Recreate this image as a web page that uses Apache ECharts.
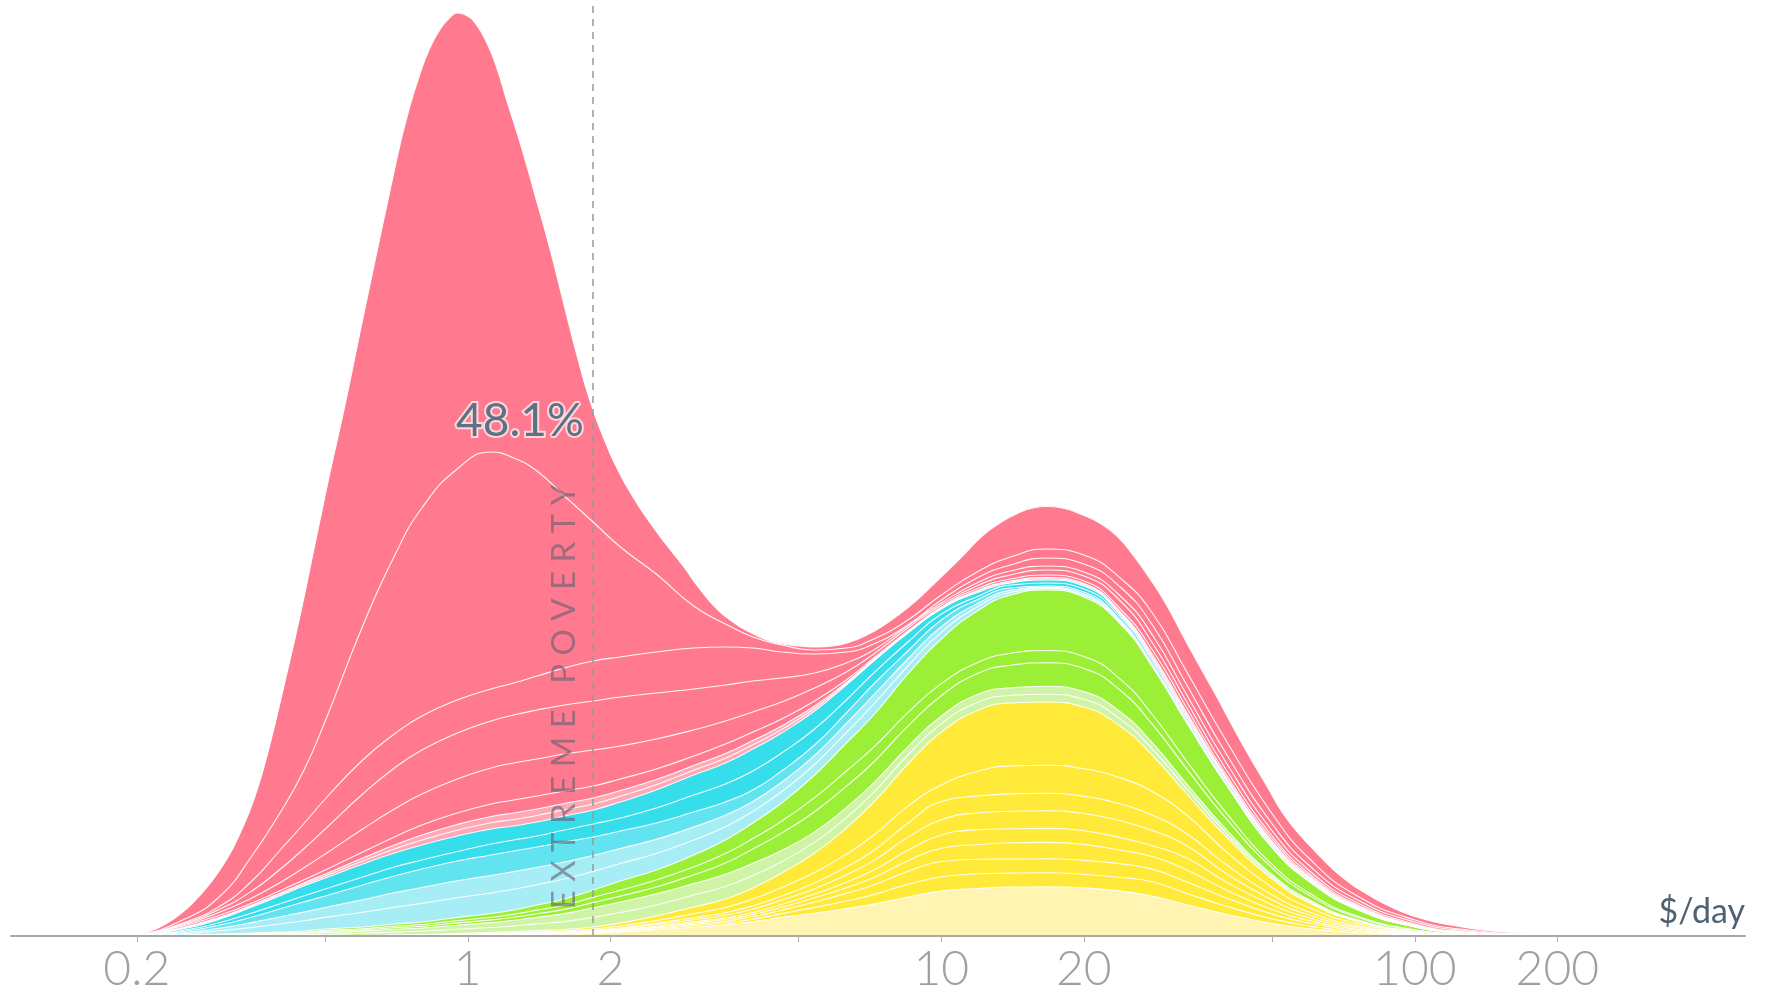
<!DOCTYPE html>
<html><head><meta charset="utf-8">
<script src="https://cdn.jsdelivr.net/npm/echarts@6/dist/echarts.min.js"></script>
<style>html,body{margin:0;padding:0;background:#fff}#chart{width:1768px;height:995px}</style>
</head><body><div id="chart"></div>
<script>
// income levels ($/day) at which the outer silhouette was read (finer sampling)
const outlineIncomes = [0.19,0.21,0.23,0.25,0.265,0.285,0.31,0.33,0.355,0.38,0.41,0.44,0.475,0.51,0.55,0.59,0.635,0.685,0.72,0.755,0.79,0.83,0.875,0.915,0.95,0.99,1.04,1.1,1.15,1.21,1.3,1.4,1.49,1.59,1.7,1.81,1.94,2.07,2.24,2.42,2.62,2.85,3.09,3.36,3.63,3.94,4.28,4.63,5.03,5.46,5.9,6.41,6.96,7.52,8.17,8.88,9.59,10.4,11.3,12.2,13.3,14.4,15.6,16.7,18,19.9,21.6,23.5,25.4,27.6,29.9,32.4,35.2,38.2,41.3,44.8,48.7,52.6,57.2,62.1,67.1,72.9,79.2,85.6,93,101,109,119,139,164,193,223];
const asiaTop = [0,4,12,24,35,52,77,102,139,187,252,315,390,460,530,600,672,745,792,830,860,887,907,918,923,921,912,892,869,835,788,734,688,635,581,536,497,467,438,414,392,370,347,327,314,304,296,292,290,289,290,294,301,310,322,336,351,367,384,400,413,422,428,429.5,428,421,413,400,381,357,331,300,269,239,209,179,150,123,101,83,67,53,42,33,25,19,14.5,11,6,3,1,0];

// income levels ($/day) at which the inner boundaries were read
const incomes = [0.18,0.2,0.25,0.3,0.35,0.4,0.45,0.5,0.6,0.7,0.8,0.95,1.12,1.25,1.4,1.6,1.84,2.1,2.5,3,3.5,4,4.6,5.4,6.3,7.2,8.5,10,12,14,16.7,20,24,28,33,40,50,60,75,100,130,180,250];

// cumulative heights (top of each band)
// Asia (pink)
const asiaA     = [0,1.5,16,40,80,122,165,215,310,380,428,467,484,478,465,440,414,389,362,330,312,299,291,286,288,297,316,341,365,379,387,381,357,322,264,195,122,77,41,16,6,1.5,0];
const asiaB     = [0,1.2,13,30,55,85,112,137,176,202,220,236,247,253,260,268,275,279,284,288,289,288,284,282,284,292,311,336,359,371,378,372,348,310,251,182,112,70,37,14,5,1.2,0];
const asiaC     = [0,1,12,27,45,66,87,107,142,168,186,203,215,221,226,231,235,239,243,247,251,255,258,263,273,286,310,333,354,365,370,364,339,300,241,173,105,65,34,12,4,1,0];
const asiaD     = [0,0.9,11,24,38,53,68,82,107,127,142,157,168,173,177,182,186,190,197,206,215,224,234,248,264,282,308,331,351,361,366,360,334,292,234,166,100,62,32,11,3.6,0.8,0];
const asiaE     = [0,0.8,10,21,33,45,56,66,84,99,111,123,132,136,140,145,150,157,167,180,192,204,217,235,256,278,305,329,348,357,361,355,326,285,228,161,97,60,31,10.5,3.3,0.6,0];
const asiaSmall = [0,0.7,8.5,19,31,42.5,53,62,78,91,101,111.5,119.5,123,127,132.5,138,145.5,156.5,170.5,182.5,195.5,210,230,253.5,276.5,304,328,346,355,358.5,352.5,323,280.5,223.5,158.5,94.5,58.5,30,10.25,3.25,0.55,0];
const asiaSmall2= [0,0.65,7.75,18,30,41.25,51.5,60,75,87,96,105.75,113.25,116.5,120.5,126.25,132,139.75,151.25,165.75,177.75,191.25,206.5,227.5,252.25,275.75,303.5,327.5,345,354,357.25,351.25,321.5,278.25,221.25,157.25,93.25,57.75,29.5,10.1,3.2,0.52,0];
// Africa (cyan)
const africaTop   = [0,0.6,7,17,29,40,50,58,72,83,91,100,107,110,114,120,126,134,146,161,173,187,203,225,251,275,303,327,344,353,356,350,320,276,219,156,92,57,29,10,3.2,0.5,0];
const africaA     = [0,0.5,5.5,13.5,23,32,40,47,59,69,76,84.5,92,96,100,106,112,118,128,141,152,165,183,207,236,263,294,322,340,351,353,347,318,274,217,154,91,56,28.5,9.7,3,0.47,0];
const africaB     = [0,0.4,4.5,11,19,27,34,40,51,60,67,75,81,85,89,94,99,105,113,124,134,146,165,191,223,252,285,316,337,348,350,344,315,271,215,152,89.5,55.2,27.8,9.4,2.8,0.45,0];
const africaC     = [0,0.33,3.3,7.9,13.4,19,23.9,28.5,36.3,43.2,48.5,55.2,60.5,64.4,68.7,74,80.5,87.5,96.6,109,120.7,134.5,153.8,180.5,212.5,241.2,277,309.4,333.2,345.6,348.6,342.3,313.6,270,214.3,151.7,89,54.8,27.5,9.3,2.7,0.43,0];
const africaSmall = [0,0.27,2.2,5.2,8.6,12,15.2,18.6,23.7,28.8,32.6,38.3,43,46.7,51.3,57,64.6,72.5,82.5,96,109.3,124.6,144.2,171.5,203.5,231.9,270,303.7,329.9,343.5,347.4,340.8,312.4,269,213.7,151.4,88.5,54.4,27.3,9.1,2.67,0.42,0];
// Americas (green)
const americasTop   = [0,0.2,1,2,3,4,5,7,9,12,14,18.5,22.5,26,31,37,46,55,66,81,96,113,133,161,193,221,262,297,326,341,346,339,311,268,213,151,88,54,27,9,2.6,0.4,0];
const americasA     = [0,0.16,0.8,1.6,2.4,3.2,4,5.6,7.3,9.8,11.5,15.3,18.7,21.7,25.9,30.9,38.6,45.8,55.9,69,82.4,97.4,114.8,138.4,165,188.8,223.3,252.4,274,282.7,285.5,279.6,255.9,220.5,174.7,122.9,71.3,42.7,20.5,6.3,1.74,0.18,0];
const americasB     = [0,0.13,0.66,1.3,2,2.6,3.3,4.6,6.1,8.3,9.75,13.1,16.1,18.7,22.3,26.6,33.4,39.9,49,61.2,73,87,102.9,124.3,149.7,174,209.8,240.3,263,270.8,273.2,267.5,244.7,210.8,166.9,117.2,67.9,40.4,19.2,5.75,1.56,0.14,0];
const americasSmall = [0,0.1,0.52,1.04,1.56,2.1,2.6,3.6,4.9,6.7,8,10.8,13.4,15.7,18.8,22.4,28.2,34,42.1,52.4,61.8,72.7,85.4,104.1,128.4,153.1,189.1,219.8,242,248.1,249.7,244.4,223.3,192.3,151.9,106.3,61.3,35.9,16.7,4.7,1.22,0.06,0];
const americasSmall2= [0,0.05,0.26,0.52,0.78,1.04,1.3,1.8,2.7,3.9,4.75,6.7,8.5,10.1,12.1,14.4,18.6,23.5,31,41,49.4,60.4,74.2,93.9,118.2,143.6,181,212.4,234,240.6,241.8,236.7,216.1,186.2,147,102.6,59.2,34.5,15.8,4.35,1.11,0.03,0];
// Europe (yellow)
const europeTop   = [0,0,0,0,0,0,0,0,0.5,1,1.5,2.5,3.6,4.5,5.5,6.5,9,13,20,29,37,48,63,83,108,134,172,204,226,233,234,229,209,180,142,99,57,33,15,4,1,0,0];
const europeA     = [0,0,0,0,0,0,0,0,0.385,0.77,1.16,1.93,2.77,3.47,4.24,5,6.93,10,15.4,22.3,28.5,37,48.5,63.5,81.8,100.8,129.9,151,165,170.1,170.8,167.2,157.8,144,120.7,84.2,48.5,28,12.8,3.4,0.85,0,0];
const europeB     = [0,0,0,0,0,0,0,0,0.315,0.63,0.95,1.58,2.27,2.84,3.47,4.1,5.67,8.19,12.6,18.3,23.3,30.2,40,53.1,68.9,85.5,112.7,134.6,140.1,142.1,142.7,139.7,131.7,120.6,102.2,71.3,41,23.8,10.8,2.9,0.72,0,0];
const europeC     = [0,0,0,0,0,0,0,0,0.28,0.56,0.84,1.4,2.02,2.52,3.08,3.64,5.04,7.28,11.2,16.2,20.7,26.9,35.9,47.3,61.1,75.4,98.6,116.3,123.2,124.7,125.2,122.5,115,105.3,90.2,62.4,35.9,20.8,9.45,2.5,0.63,0,0];
const europeD     = [0,0,0,0,0,0,0,0,0.245,0.49,0.74,1.23,1.76,2.2,2.7,3.19,4.41,6.37,9.8,14.2,18.1,23.5,31.5,41.9,53.7,65.9,85.7,101,106.2,107.2,107.6,105.3,98.2,90,78.1,54,31.1,18,8.2,2.2,0.55,0,0];
const europeE     = [0,0,0,0,0,0,0,0,0.22,0.445,0.67,1.11,1.6,2,2.45,2.89,4,5.79,8.9,12.9,16.5,21.4,28.7,38.2,48.2,58.4,75.2,87.7,91.5,93.2,93.6,91.6,85.7,79.2,66,46,26.5,15.3,7,1.9,0.47,0,0];
const europeF     = [0,0,0,0,0,0,0,0,0.2,0.4,0.6,1,1.44,1.8,2.2,2.6,3.6,5.2,8,11.6,14.8,19.2,25.8,34,42.6,50.9,64.5,74.5,76.8,76.9,77.2,75.6,72.1,66.6,54,38.1,21.9,12.7,5.8,1.5,0.39,0,0];
const europeG     = [0,0,0,0,0,0,0,0,0.175,0.35,0.53,0.88,1.26,1.58,1.93,2.28,3.15,4.55,7,10.2,13,16.8,22.4,28.6,35,41.4,51.6,59.2,62.2,62.9,63.2,61.8,58.5,54,42.6,29.7,17.1,9.9,4.5,1.2,0.3,0,0];
const europeSmall = [0,0,0,0,0,0,0,0,0.15,0.3,0.45,0.75,1.08,1.35,1.65,1.95,2.7,3.9,6,8.7,11.1,14.4,18.6,22.8,27.4,31.9,38.9,44.9,47.5,48.9,49.1,48.1,44.9,39.6,31.2,21.8,12.5,7.3,3.3,0.9,0.22,0,0];

const xLabelValues = [0.2,1,2,10,20,100,200];
const xTickValues = [0.2,0.5,1,2,5,10,20,50,100,200];
const povertyLine = 1.84;
const povertyShare = '48.1%';

const PINK='#FF7A8F', PINK_L='#FFA9B7', CYAN='#36DDEB', CYAN_M='#62E3F0', CYAN_L='#A6EDF6',
      GREEN='#9CEF37', GREEN_L='#CFF4A6', YELLOW='#FFEA3A', YELLOW_L='#FFF4B2';

// drawn from the highest band down, each area filled to the baseline
const layers = [
  ['asiaTop',outlineIncomes,asiaTop,PINK],
  ['asiaA',incomes,asiaA,PINK],['asiaB',incomes,asiaB,PINK],['asiaC',incomes,asiaC,PINK],['asiaD',incomes,asiaD,PINK],
  ['asiaE',incomes,asiaE,PINK],['asiaSmall',incomes,asiaSmall,PINK_L],['asiaSmall2',incomes,asiaSmall2,PINK_L],
  ['africaTop',incomes,africaTop,CYAN],['africaA',incomes,africaA,CYAN],['africaB',incomes,africaB,CYAN_M],
  ['africaC',incomes,africaC,CYAN_L],['africaSmall',incomes,africaSmall,CYAN_L],
  ['americasTop',incomes,americasTop,GREEN],['americasA',incomes,americasA,GREEN],['americasB',incomes,americasB,GREEN],
  ['americasSmall',incomes,americasSmall,GREEN_L],['americasSmall2',incomes,americasSmall2,GREEN_L],
  ['europeTop',incomes,europeTop,YELLOW],['europeA',incomes,europeA,YELLOW],['europeB',incomes,europeB,YELLOW],
  ['europeC',incomes,europeC,YELLOW],['europeD',incomes,europeD,YELLOW],['europeE',incomes,europeE,YELLOW],
  ['europeF',incomes,europeF,YELLOW],['europeG',incomes,europeG,YELLOW],['europeSmall',incomes,europeSmall,YELLOW_L]
];

const series = layers.map(([name,xs,vals,color]) => ({
  type:'line', name, silent:true, symbol:'none', smooth:0.5,
  data: xs.map((x,i)=>[x, vals[i]]),
  lineStyle:{color:'#ffffff', width:1.1, opacity:0.95},
  areaStyle:{color, opacity:1},
  z:2
}));
series[series.length-1].markLine = {
  symbol:'none', silent:true, z:5, label:{show:false},
  lineStyle:{color:'#999999', type:[7,6], width:1.5},
  data:[{xAxis:povertyLine}]
};

const chart = echarts.init(document.getElementById('chart'), null, {renderer:'canvas'});
chart.setOption({
  animation:false,
  backgroundColor:'#ffffff',
  grid:{left:11, right:23, top:0, bottom:59},
  xAxis:{
    type:'log', logBase:10, min:0.1085, max:498, z:5,
    axisLine:{show:true, lineStyle:{color:'#a8a8a8', width:2}},
    axisTick:{show:true, customValues:xTickValues, length:6, inside:false, lineStyle:{color:'#b0b0b0', width:1}},
    axisLabel:{customValues:xLabelValues, margin:10, fontSize:48, fontFamily:'Lato', fontWeight:300, color:'#a0a0a0',
      formatter:v=>String(Math.round(v*100)/100)},
    splitLine:{show:false}, minorTick:{show:false}
  },
  yAxis:{type:'value', min:0, max:936, show:false, splitLine:{show:false}},
  series,
  graphic:[
    {type:'text', silent:true, z:10, x:520, y:421, style:{text:povertyShare, align:'center', verticalAlign:'middle',
      font:'400 46px Lato', fill:'#5d7284', stroke:'#ffd6dc', lineWidth:4}},
    {type:'text', silent:true, z:10, x:564, y:697, rotation:Math.PI/2, style:{text:'E X T R E M E   P O V E R T Y', align:'center', verticalAlign:'middle',
      font:'400 33px Lato', fill:'rgba(95,95,112,0.6)'}},
    {type:'text', silent:true, z:10, x:1745, y:912, style:{text:'$/day', align:'right', verticalAlign:'middle',
      font:'400 34px Lato', fill:'#4f6272'}}
  ]
});
</script></body></html>
